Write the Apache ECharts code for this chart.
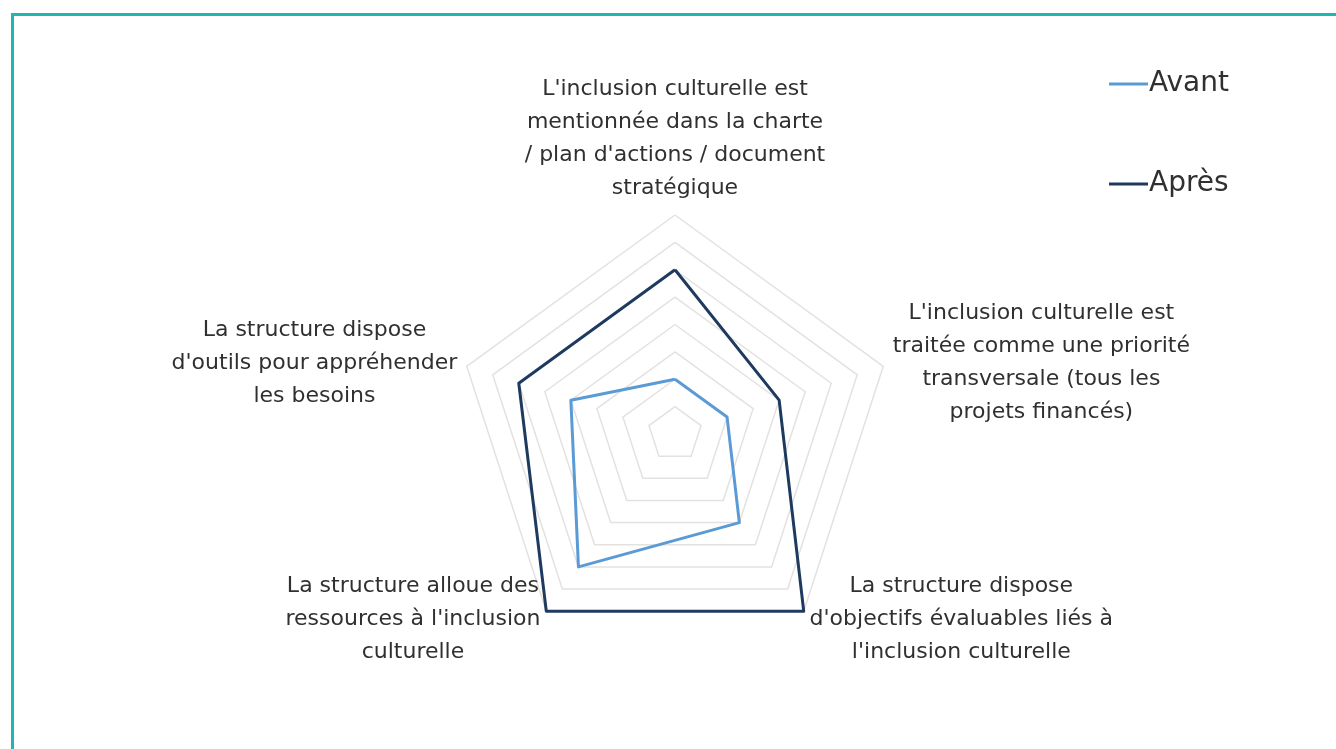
<!DOCTYPE html>
<html>
<head>
<meta charset="utf-8">
<script src="https://cdn.jsdelivr.net/npm/echarts@6/dist/echarts.min.js"></script>
<style>
  html, body { margin: 0; padding: 0; background: #fff; }
  .wrap { position: relative; width: 1336px; height: 749px; overflow: hidden; }
  .frame { position: absolute; left: 11px; top: 13px; right: -10px; bottom: -10px;
           border-top: 3px solid #1fb7b4; border-left: 3px solid #1fb7b4; }
  .echarts_1 { position: absolute; left: 0; top: 0; width: 1336px; height: 749px; }
</style>
</head>
<body>
<div class="wrap">
  <div class="frame"></div>
  <div class="echarts_1"></div>
</div>
<script>
// indicators listed counter-clockwise starting at the top (ECharts order)
var categories = [
  "L'inclusion culturelle est\nmentionnée dans la charte\n/ plan d'actions / document\nstratégique",
  "La structure dispose\nd'outils pour appréhender\nles besoins",
  "La structure alloue des\nressources à l'inclusion\nculturelle",
  "La structure dispose\nd'objectifs évaluables liés à\nl'inclusion culturelle",
  "L'inclusion culturelle est\ntraitée comme une priorité\ntransversale (tous les\nprojets financés)"
];
var seriesNames = ['Avant', 'Après'];
var avant = [1, 2, 3, 2, 1];
var apres = [3, 3, 4, 4, 2];
var maxValue = 4;

var font = '"DejaVu Sans", sans-serif';
var textColor = '#303030';

var echarts_1 = echarts.init(document.querySelector('.echarts_1'));
var option1 = {
  backgroundColor: 'transparent',
  legend: {
    data: seriesNames,
    orient: 'vertical',
    left: 1104,
    top: 65,
    itemGap: 72,
    itemWidth: 39,
    itemHeight: 3,
    icon: 'rect',
    textStyle: { fontSize: 28, color: textColor, fontFamily: font, padding: [0, 0, 0, -4] }
  },
  radar: {
    center: [675, 434],
    radius: 219,
    splitNumber: 8,
    indicator: categories.map(function (c) { return { name: c, max: maxValue, min: 0 }; }),
    nameGap: 10,
    axisName: {
      formatter: function (name) {
        return name.split('\n').map(function (l) { return '{c|' + l + '}'; }).join('\n');
      },
      rich: {
        c: { align: 'center', fontSize: 22, lineHeight: 33, color: textColor, fontFamily: font }
      }
    },
    axisLine: { show: false },
    splitArea: { show: false },
    splitLine: { lineStyle: { color: '#e4e2e0', width: 1.5 } }
  },
  series: [{
    type: 'radar',
    symbol: 'none',
    silent: true,
    data: [
      { name: seriesNames[0], value: avant,
        lineStyle: { color: '#5b9bd5', width: 3 }, itemStyle: { color: '#5b9bd5' } },
      { name: seriesNames[1], value: apres,
        lineStyle: { color: '#1f3a5f', width: 3 }, itemStyle: { color: '#1f3a5f' } }
    ]
  }]
};
echarts_1.setOption(option1);
</script>
</body>
</html>
